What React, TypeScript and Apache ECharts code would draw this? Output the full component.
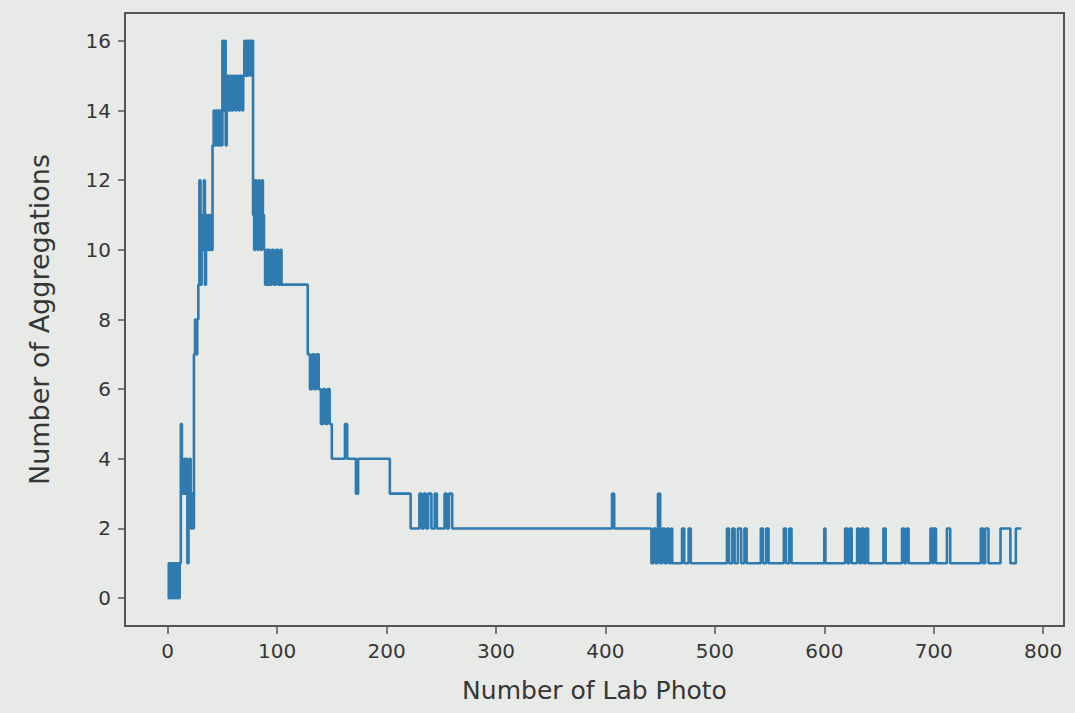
import React, { useEffect, useRef } from "react";
import * as echarts from "echarts";

// Step breakpoints: value stepY[i] holds from stepX[i] until stepX[i+1]
const stepX: number[] = [
  0, 1, 2, 3, 4, 5, 6, 7, 8, 9, 10, 11,
  12, 13, 14, 15, 16, 17, 18, 19, 20, 21, 22, 23,
  24, 25, 26, 27, 28, 29, 30, 31, 32, 33, 34, 35, 36, 37, 38, 39, 40,
  41, 42, 43, 44, 45, 46, 47, 48, 49, 50, 51, 52, 53, 54, 55, 56, 57, 58, 59, 60, 62, 63, 65, 66, 68, 69, 70, 71, 72, 73, 74, 76, 77,
  78, 79, 80, 81, 82, 83, 84, 85, 86, 87, 88, 89, 90, 91, 92, 93, 95, 97, 99, 101, 103, 104,
  128, 130, 132, 134, 136, 138, 140, 142, 144, 146, 148, 150,
  162, 164, 172, 174, 203, 222,
  230, 232, 234, 236, 238, 241, 244, 246, 253, 255, 257, 260,
  406, 408,
  442, 444, 446, 448, 450, 452, 454, 456, 458, 460, 461,
  470, 472, 476, 478,
  511, 513, 516, 518, 521, 524, 527, 529,
  542, 544, 547, 549,
  563, 565, 568, 570,
  600, 601,
  619, 621, 623, 625,
  630, 632, 634, 636, 638, 640,
  654, 656,
  671, 673, 675, 677,
  697, 699, 700, 702,
  712, 715,
  743, 745, 747, 750,
  761, 770, 775, 780,
];

const stepY: number[] = [
  0, 1, 0, 1, 0, 1, 0, 1, 0, 1, 0, 1,
  5, 4, 3, 4, 3, 4, 1, 3, 4, 2, 3, 2,
  7, 8, 7, 8, 9, 12, 9, 11, 10, 12, 9, 11, 10, 11, 10, 11, 10,
  13, 14, 13, 14, 13, 14, 13, 14, 13, 16, 14, 16, 13, 15, 14, 15, 14, 15, 14, 15, 14, 15, 14, 15, 14, 15, 16, 15, 16, 15, 16, 15, 16,
  11, 10, 12, 11, 10, 12, 11, 10, 12, 11, 10, 9, 10, 9, 10, 9, 10, 9, 10, 9, 10, 9,
  7, 6, 7, 6, 7, 6, 5, 6, 5, 6, 5, 4,
  5, 4, 3, 4, 3, 2,
  3, 2, 3, 2, 3, 2, 3, 2, 3, 2, 3, 2,
  3, 2,
  1, 2, 1, 3, 1, 2, 1, 2, 1, 2, 1,
  2, 1, 2, 1,
  2, 1, 2, 1, 2, 1, 2, 1,
  2, 1, 2, 1,
  2, 1, 2, 1,
  2, 1,
  2, 1, 2, 1,
  2, 1, 2, 1, 2, 1,
  2, 1,
  2, 1, 2, 1,
  2, 1, 2, 1,
  2, 1,
  2, 1, 2, 1,
  2, 1, 2, 2,
];

const xTicks: number[] = [0, 100, 200, 300, 400, 500, 600, 700, 800];
const yTicks: number[] = [0, 2, 4, 6, 8, 10, 12, 14, 16];

const xTitle = "Number of Lab Photo";
const yTitle = "Number of Aggregations";

export default function App() {
  const ref = useRef<HTMLDivElement>(null);

  useEffect(() => {
    if (!ref.current) return;
    const chart = echarts.init(ref.current, undefined, { renderer: "svg" });
    const data = stepX.map((x, i) => [x, stepY[i]]);
    const font = "DejaVu Sans";
    const textColor = "#363636";
    chart.setOption({
      animation: false,
      backgroundColor: "#e8eae7",
      grid: {
        left: 125,
        right: 11,
        top: 13,
        bottom: 87,
        show: true,
        borderColor: "#555",
        borderWidth: 2,
        backgroundColor: "#e8eae7",
      },
      xAxis: {
        type: "value",
        min: -39,
        max: 819,
        name: xTitle,
        nameLocation: "middle",
        nameGap: 52,
        nameTextStyle: { fontFamily: font, fontSize: 25, color: textColor },
        axisLine: { show: false, onZero: false },
        axisTick: {
          show: true,
          length: 8,
          lineStyle: { color: "#555", width: 1.5 },
          customValues: xTicks,
        },
        axisLabel: {
          fontFamily: font,
          fontSize: 20,
          color: textColor,
          margin: 15,
          customValues: xTicks,
        },
        splitLine: { show: false },
      },
      yAxis: {
        type: "value",
        min: -0.8,
        max: 16.8,
        name: yTitle,
        nameLocation: "middle",
        nameGap: 72,
        nameTextStyle: { fontFamily: font, fontSize: 27, color: textColor },
        axisLine: { show: false, onZero: false },
        axisTick: {
          show: true,
          length: 7,
          lineStyle: { color: "#555", width: 1.5 },
          customValues: yTicks,
        },
        axisLabel: {
          fontFamily: font,
          fontSize: 20,
          color: textColor,
          margin: 14,
          customValues: yTicks,
        },
        splitLine: { show: false },
      },
      series: [
        {
          type: "line",
          step: "end",
          data,
          showSymbol: false,
          symbol: "none",
          lineStyle: { color: "#2f7aae", width: 2.6 },
        },
      ],
    });
    return () => chart.dispose();
  }, []);

  return (
    <div
      ref={ref}
      style={{ position: "fixed", left: 0, top: 0, width: 1075, height: 713 }}
    />
  );
}
